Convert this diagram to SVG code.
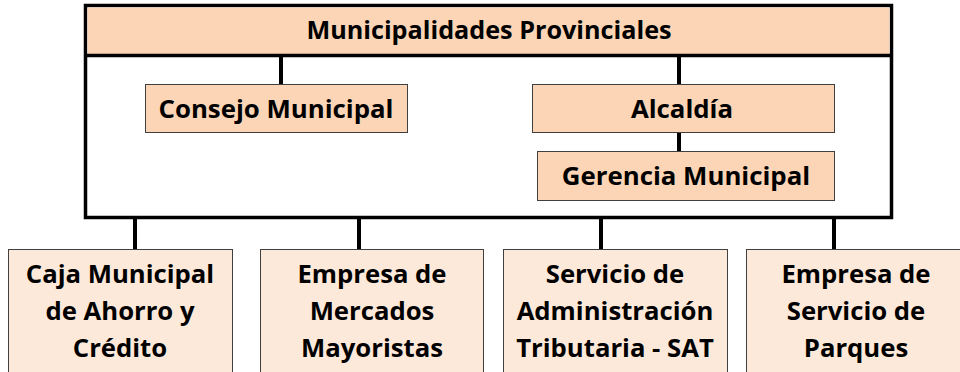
<svg xmlns="http://www.w3.org/2000/svg" width="960" height="372" viewBox="0 0 960 372">
<style>
.hdr{fill:#FBD5B5;}
.box{fill:#FBD5B5;stroke:#404040;stroke-width:1;}
.sub{fill:#FDE9D9;stroke:#404040;stroke-width:1;}
.frame{fill:#FFFFFF;stroke:#000;stroke-width:3.5;}
.con{stroke:#000;stroke-width:4;fill:none;}
text{font-family:"Open Sans","Liberation Sans",sans-serif;font-weight:bold;fill:#000;text-anchor:middle;}
.t0{font-size:25.2px;}
.t1{font-size:25.8px;}
.t2{font-size:25.7px;}
</style>
<rect x="0" y="0" width="960" height="372" fill="#FFFFFF"/>
<g id="municipalidades">
<rect class="frame" x="85.5" y="5.5" width="806" height="212"/>
<rect class="hdr" x="87.5" y="7.5" width="802" height="47"/>
<line x1="85.5" y1="55.5" x2="891.5" y2="55.5" stroke="#000" stroke-width="3.5"/>
<text class="t0" x="489" y="39">Municipalidades Provinciales</text>
</g>
<g id="connectors">
<line class="con" x1="281" y1="57" x2="281" y2="84"/>
<line class="con" x1="679" y1="57" x2="679" y2="84"/>
<line class="con" x1="679" y1="132" x2="679" y2="151"/>
<line class="con" x1="135" y1="219" x2="135" y2="249"/>
<line class="con" x1="359" y1="219" x2="359" y2="249"/>
<line class="con" x1="601" y1="219" x2="601" y2="249"/>
<line class="con" x1="834" y1="219" x2="834" y2="249"/>
</g>
<g id="consejo">
<rect class="box" x="145.5" y="84.5" width="262" height="48"/>
<text class="t1" x="276" y="118">Consejo Municipal</text>
</g>
<g id="alcaldia">
<rect class="box" x="532.5" y="84.5" width="302" height="48"/>
<text class="t1" x="682" y="118">Alcaldía</text>
</g>
<g id="gerencia">
<rect class="box" x="537.5" y="151.5" width="297" height="49"/>
<text class="t1" x="686" y="185">Gerencia Municipal</text>
</g>
<g id="caja">
<rect class="sub" x="8.5" y="249.5" width="224" height="140"/>
<text class="t2" x="120" y="283">Caja Municipal</text>
<text class="t2" x="120" y="320">de Ahorro y</text>
<text class="t2" x="120" y="357">Crédito</text>
</g>
<g id="mercados">
<rect class="sub" x="260.5" y="249.5" width="223" height="140"/>
<text class="t2" x="372" y="283">Empresa de</text>
<text class="t2" x="372" y="320">Mercados</text>
<text class="t2" x="372" y="357">Mayoristas</text>
</g>
<g id="sat">
<rect class="sub" x="503.5" y="249.5" width="224" height="140"/>
<text class="t2" x="615" y="283">Servicio de</text>
<text class="t2" x="615" y="320">Administración</text>
<text class="t2" x="615" y="357">Tributaria - SAT</text>
</g>
<g id="parques">
<rect class="sub" x="746.5" y="249.5" width="224" height="140"/>
<text class="t2" x="856" y="283">Empresa de</text>
<text class="t2" x="856" y="320">Servicio de</text>
<text class="t2" x="856" y="357">Parques</text>
</g>
</svg>
